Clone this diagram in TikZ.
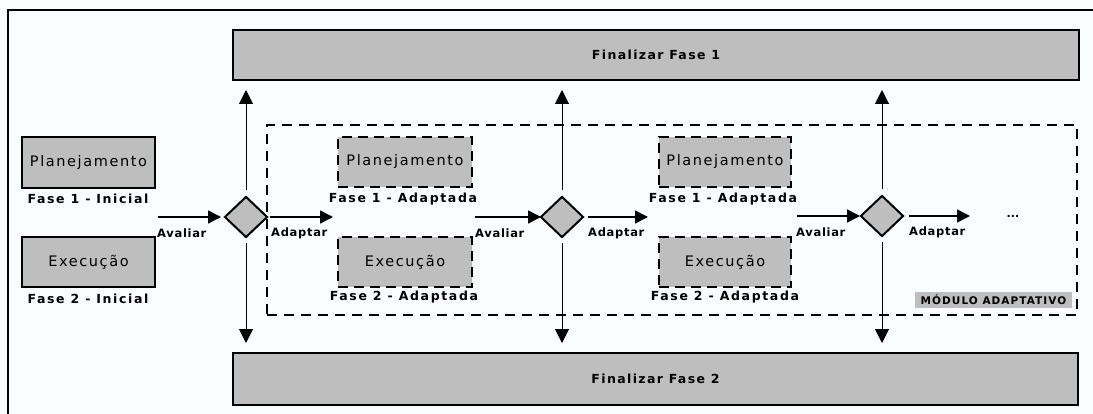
\documentclass[tikz,border=0pt]{standalone}
\usepackage{fontspec}
\setmainfont{DejaVu Sans}
\newfontfamily\regsp[LetterSpace=11]{DejaVu Sans}
\newfontfamily\capsp[LetterSpace=13]{DejaVu Sans}
\newfontfamily\finsp[LetterSpace=11]{DejaVu Sans}
\newfontfamily\smallsp[LetterSpace=6]{DejaVu Sans}
\newfontfamily\modsp[LetterSpace=10]{DejaVu Sans}
\usetikzlibrary{shapes.geometric,arrows.meta}
\definecolor{boxgray}{RGB}{190,190,190}
\definecolor{bgc}{RGB}{250,253,254}
\begin{document}
\begin{tikzpicture}[x=1pt,y=-1pt,
  sbox/.style={draw=black, line width=2.2pt, fill=boxgray, inner sep=0pt,
    font=\regsp\fontsize{14.5}{16}\selectfont},
  dbox/.style={sbox, dash pattern=on 10pt off 6pt},
  fbox/.style={draw=black, line width=2.4pt, fill=boxgray, inner sep=0pt,
    font=\finsp\bfseries\fontsize{12.5}{14}\selectfont},
  capt/.style={font=\capsp\bfseries\fontsize{12.5}{14}\selectfont, inner sep=0pt},
  lab/.style={font=\smallsp\bfseries\fontsize{11.5}{13}\selectfont, inner sep=0pt, anchor=west},
  dec/.style={diamond, draw=black, line width=2pt, fill=boxgray, minimum width=43pt,
    minimum height=41pt, inner sep=0pt},
  harrow/.style={line width=1.5pt, -{Triangle[length=13pt,width=13pt]}},
  varrow/.style={line width=1pt, -{Triangle[length=14pt,width=14pt]}},
]
\useasboundingbox (0,0) rectangle (1093,414);
\fill[bgc] (0,0) rectangle (1093,414);
% frame
\coordinate (fbl) at (8,414);
\coordinate (ftl) at (8,10);
\coordinate (ftr) at (1093,10);
\draw[line width=1.6pt] (fbl) -- (ftl) -- (ftr);

% finalizar boxes
\node[fbox, minimum width=846pt, minimum height=50pt] (f1) at (656,55) {Finalizar Fase 1};
\node[fbox, minimum width=845pt, minimum height=52pt] (f2) at (655.5,379) {Finalizar Fase 2};

% module
\node[draw=black, line width=2pt, dash pattern=on 10pt off 7pt, minimum width=810pt,
  minimum height=190pt, inner sep=0pt] (mod) at (672,220) {};
\node[fill=boxgray, inner sep=0pt, minimum width=157pt, minimum height=16pt,
  font=\modsp\bfseries\fontsize{10.5}{12}\selectfont] (modlab) at (993.5,300) {MÓDULO ADAPTATIVO};

% initial boxes
\node[sbox, minimum width=133pt, minimum height=51pt] (p0) at (88.5,162.5) {Planejamento};
\node[sbox, minimum width=133pt, minimum height=50pt] (e0) at (88.5,262) {Execução};
\node[capt] (p0c) at (88,199) {Fase 1 - Inicial};
\node[capt] (e0c) at (88,299) {Fase 2 - Inicial};

% adapted boxes
\node[dbox, minimum width=134pt, minimum height=50pt] (p1) at (405,162) {Planejamento};
\node[dbox, minimum width=134pt, minimum height=50pt] (e1) at (405,262) {Execução};
\node[capt] (p1c) at (403,199) {Fase 1 - Adaptada};
\node[capt] (e1c) at (404,297) {Fase 2 - Adaptada};
\node[dbox, minimum width=132pt, minimum height=50pt] (p2) at (725,162) {Planejamento};
\node[dbox, minimum width=132pt, minimum height=50pt] (e2) at (725,262) {Execução};
\node[capt] (p2c) at (723,199) {Fase 1 - Adaptada};
\node[capt] (e2c) at (725,297) {Fase 2 - Adaptada};

% decisions
\node[dec] (d1) at (246,217) {};
\node[dec] (d2) at (562,217) {};
\node[dec] (d3) at (882,216) {};

% horizontal arrows
\coordinate (a1s) at (158,217); \coordinate (a1e) at (221,217);
\coordinate (b1s) at (270,217); \coordinate (b1e) at (333,217);
\coordinate (a2s) at (475,217); \coordinate (a2e) at (541,217);
\coordinate (b2s) at (588,217); \coordinate (b2e) at (648,217);
\coordinate (a3s) at (797,216); \coordinate (a3e) at (860,216);
\coordinate (b3s) at (909,216); \coordinate (b3e) at (970,216);
\draw[harrow] (a1s) -- (a1e);
\draw[harrow] (b1s) -- (b1e);
\draw[harrow] (a2s) -- (a2e);
\draw[harrow] (b2s) -- (b2e);
\draw[harrow] (a3s) -- (a3e);
\draw[harrow] (b3s) -- (b3e);
\node[lab] (la1) at (157,233) {Avaliar};
\node[lab] (lb1) at (271,233) {Adaptar};
\node[lab] (la2) at (475,233) {Avaliar};
\node[lab] (lb2) at (588,233) {Adaptar};
\node[lab] (la3) at (796,232) {Avaliar};
\node[lab] (lb3) at (909,232) {Adaptar};
\node[font=\bfseries\fontsize{11}{13}\selectfont, inner sep=0pt] (dots) at (1013,216) {...};

% vertical arrows
\coordinate (t1) at (246,90); \coordinate (u1) at (246,343);
\coordinate (t2) at (562,90); \coordinate (u2) at (562,343);
\coordinate (t3) at (882,90); \coordinate (u3) at (882,343);
\draw[varrow, shorten <=5pt] (d1.north) -- (t1);
\draw[varrow, shorten <=5pt] (d1.south) -- (u1);
\draw[varrow, shorten <=5pt] (d2.north) -- (t2);
\draw[varrow, shorten <=5pt] (d2.south) -- (u2);
\draw[varrow, shorten <=5pt] (d3.north) -- (t3);
\draw[varrow, shorten <=5pt] (d3.south) -- (u3);
\end{tikzpicture}
\end{document}
